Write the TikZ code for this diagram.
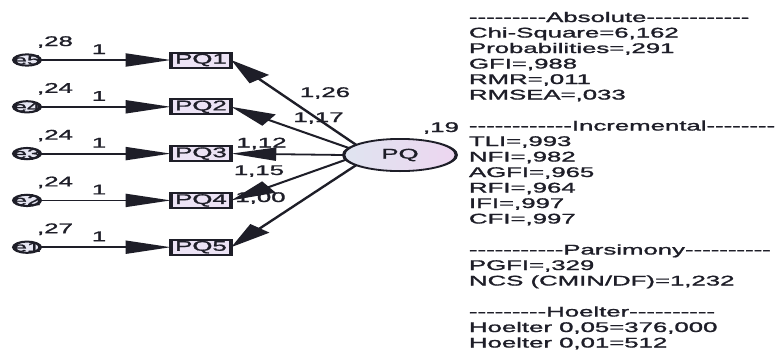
\documentclass[tikz,border=0pt]{standalone}
\usepackage{fontspec}
\setmainfont{Liberation Sans}[Ligatures=TeXOff, FakeBold=1.2]
\usetikzlibrary{arrows.meta,shapes.geometric}

\definecolor{ink}{HTML}{1E1E28}
\definecolor{boxfill}{HTML}{ECE3F5}
\definecolor{latL}{HTML}{DFE4F0}
\definecolor{latR}{HTML}{EDD6F0}
\definecolor{errfill}{HTML}{E6E6F2}

\begin{document}
\begin{tikzpicture}[
  every node/.style={font=\fontsize{14pt}{15.5pt}\selectfont, text=ink, inner sep=0pt, outer sep=0pt},
  obs/.style={rectangle, draw=ink, line width=2pt, fill=boxfill, minimum width=32.8pt, minimum height=15pt},
  err/.style={ellipse, draw=ink, line width=2pt, fill=errfill, minimum width=14.3pt, minimum height=11.3pt},
  lat/.style={ellipse, draw=ink, line width=1.8pt, left color=latL, right color=latR, minimum width=61.2pt, minimum height=32.2pt},
  conn/.style={draw=ink, line width=1.8pt, -{Triangle[length=24.5pt,width=13pt]}},
  num/.style={anchor=base},
  fitline/.style={anchor=base west}
]
\path[use as bounding box] (0,0) rectangle (781pt,-354pt);
\fill[white] (0,0) rectangle (781pt,-354pt);
\clip (0,0) rectangle (781pt,-354pt);

% the whole diagram is set in narrow units and widened horizontally
\begin{scope}[transform canvas={xscale=1.84}, x=0.543478pt, y=-1pt]

  % latent factor
  \node[lat] (pq) at (400,155) {PQ};
  \node[num] (pqvar) at (441,132) {,19};

  % indicators with their error terms
  \foreach \r/\n/\e/\v in {60/1/5/28, 106.8/2/4/24, 153.6/3/3/24, 200.4/4/2/24, 247.2/5/1/27} {
    \node[obs] (pq\n) at (201,\r) {PQ\n};
    \node[err] (e\e) at (27,\r) {};
    \node[font=\fontsize{13.5pt}{14pt}\selectfont] (et\e) at (27,\r) {e\e};
    \node[num] (ev\e) at (55,\r-14) {,\v};
    \node[num] (w\e) at (99,\r-6) {1};
    \draw[conn] (e\e) -- (pq\n);
  }

  % factor loadings
  \node[num] (l1) at (325,97) {1,26};
  \node[num] (l2) at (318.5,122) {1,17};
  \node[num] (l3) at (261.5,147.5) {1,12};
  \node[num] (l4) at (259,175) {1,15};
  \node[num] (l5) at (260.5,202) {1,00};

  \draw[conn] (pq.157) -- (pq1.east);
  \draw[conn] (pq.166) -- (pq2.east);
  \draw[conn] (pq.180) -- (pq3.east);
  \draw[conn] (pq.189.5) -- (pq4.east);
  \draw[conn] (pq.203) -- (pq5.east);

  % fit indices
  \foreach \k/\t in {
    0/{---------Absolute------------},
    1/{Chi-Square=6,162},
    2/{Probabilities=,291},
    3/{GFI=,988},
    4/{RMR=,011},
    5/{RMSEA=,033},
    7/{------------Incremental--------},
    8/{TLI=,993},
    9/{NFI=,982},
    10/{AGFI=,965},
    11/{RFI=,964},
    12/{IFI=,997},
    13/{CFI=,997},
    15/{-----------Parsimony----------},
    16/{PGFI=,329},
    17/{NCS (CMIN/DF)=1,232},
    19/{---------Hoelter----------},
    20/{Hoelter 0,05=376,000},
    21/{Hoelter 0,01=512}} {
    \node[fitline] (fit\k) at (469,{22+15.5*\k}) {\t};
  }
\end{scope}
\end{tikzpicture}
\end{document}
